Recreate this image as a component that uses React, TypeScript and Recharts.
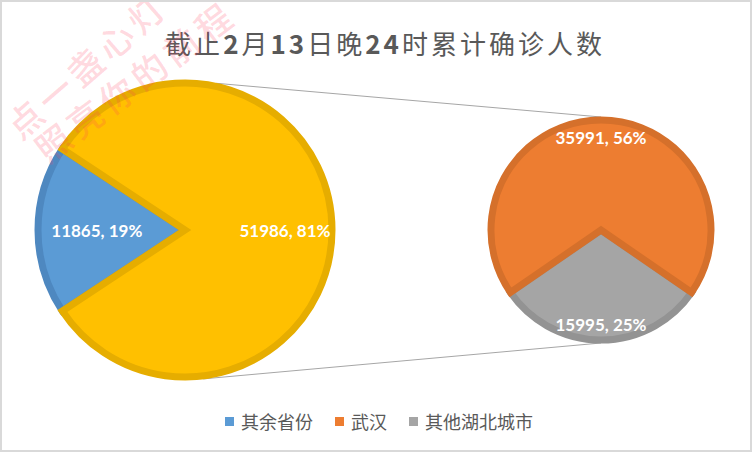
import React from "react";
import { PieChart, Pie, Cell } from "recharts";

// 主饼：其余省份 vs 湖北（合计）
const mainNames = ["其余省份", "湖北"];
const mainValues = [11865, 51986];
// 子饼：湖北拆分
const subNames = ["其他湖北城市", "武汉"];
const subValues = [15995, 35991];
const legendNames = ["其余省份", "武汉", "其他湖北城市"];
const titleText = "截止2月13日晚24时累计确诊人数";
const watermark = ["点一盏心灯", "照亮你的前程"];

const W = 752;
const H = 452;
const grandTotal = mainValues.reduce((a, b) => a + b, 0);

const mainColors = ["#5B9BD5", "#FFC000"];
const mainStroke = ["#4E88C0", "#E6AD00"];
const subColors = ["#A5A5A5", "#ED7D31"];
const subStroke = ["#939393", "#D5702B"];
const legendColors = ["#5B9BD5", "#ED7D31", "#A5A5A5"];

const mainData = mainNames.map((name, i) => ({ name, value: mainValues[i] }));
const subData = subNames.map((name, i) => ({ name, value: subValues[i] }));

const L = { cx: 185, cy: 230, r: 147 };
const R = { cx: 601, cy: 230, r: 110 };

// start angles so the small slice faces left and the grey slice faces down
const mainStart = 180 - (mainValues[0] / grandTotal) * 180;
const subStart = 270 - (subValues[0] / mainValues[1]) * 180;

const RAD = Math.PI / 180;

// label distance from centre, as a share of the radius, per slice
const makeLabel = (ratios: number[]) => (props: any) => {
  const { cx, cy, midAngle, outerRadius, value, index } = props;
  const rr = outerRadius * ratios[index];
  const x = cx + rr * Math.cos(-midAngle * RAD);
  const y = cy + rr * Math.sin(-midAngle * RAD);
  const pct = Math.round((value / grandTotal) * 100);
  return (
    <text
      x={x}
      y={y}
      fill="#ffffff"
      textAnchor="middle"
      dominantBaseline="central"
      style={{ fontFamily: "Lato, 'Open Sans', sans-serif", fontWeight: 700, fontSize: 17 }}
    >
      {`${value}, ${pct}%`}
    </text>
  );
};

const onCircle = (c: { cx: number; cy: number; r: number }, deg: number, extra = 3) => ({
  x: c.cx + (c.r + extra) * Math.cos(deg * RAD),
  y: c.cy - (c.r + extra) * Math.sin(deg * RAD),
});

export default function App() {
  const t1 = onCircle(L, 78);
  const t2 = onCircle(R, 90);
  const b1 = onCircle(L, -83);
  const b2 = onCircle(R, -90);

  return (
    <div
      style={{
        position: "fixed",
        left: 0,
        top: 0,
        width: W,
        height: H,
        background: "#ffffff",
        overflow: "hidden",
      }}
    >
      <svg width={W} height={H} style={{ position: "absolute", left: 0, top: 0 }}>
        <line x1={t1.x} y1={t1.y} x2={t2.x} y2={t2.y} stroke="#a6a6a6" strokeWidth={1} />
        <line x1={b1.x} y1={b1.y} x2={b2.x} y2={b2.y} stroke="#a6a6a6" strokeWidth={1} />
      </svg>

      <div
        style={{
          position: "absolute",
          left: 0,
          top: 26,
          width: 770,
          textAlign: "center",
          fontFamily: "'Noto Sans CJK SC', sans-serif",
          fontSize: 26,
          letterSpacing: 3,
          color: "#595959",
          lineHeight: "34px",
        }}
      >
        {titleText.split(/(\d+)/).map((part, i) =>
          /\d/.test(part) ? (
            <span key={i} style={{ fontWeight: 700 }}>
              {part}
            </span>
          ) : (
            <span key={i} style={{ fontWeight: 400 }}>{part}</span>
          )
        )}
      </div>

      <div style={{ position: "absolute", left: 0, top: 0 }}>
        <PieChart width={W} height={H} margin={{ top: 0, right: 0, bottom: 0, left: 0 }}>
          <Pie
            data={mainData}
            dataKey="value"
            nameKey="name"
            cx={L.cx}
            cy={L.cy}
            outerRadius={L.r}
            startAngle={mainStart}
            endAngle={mainStart + 360}
            label={makeLabel([0.6, 0.68])}
            labelLine={false}
            isAnimationActive={false}
          >
            {mainData.map((d, i) => (
              <Cell key={d.name} fill={mainColors[i]} stroke={mainStroke[i]} strokeWidth={7} />
            ))}
          </Pie>
          <Pie
            data={subData}
            dataKey="value"
            nameKey="name"
            cx={R.cx}
            cy={R.cy}
            outerRadius={R.r}
            startAngle={subStart}
            endAngle={subStart + 360}
            label={makeLabel([0.86, 0.84])}
            labelLine={false}
            isAnimationActive={false}
          >
            {subData.map((d, i) => (
              <Cell key={d.name} fill={subColors[i]} stroke={subStroke[i]} strokeWidth={7} />
            ))}
          </Pie>
        </PieChart>
      </div>

      <div
        style={{
          position: "absolute",
          left: 225,
          top: 409,
          display: "flex",
          alignItems: "center",
          fontFamily: "'Noto Sans CJK SC', sans-serif",
          fontSize: 18,
          color: "#595959",
          lineHeight: "24px",
        }}
      >
        {legendNames.map((n, i) => (
          <div key={n} style={{ display: "flex", alignItems: "center", marginRight: 22 }}>
            <span
              style={{
                display: "inline-block",
                width: 9,
                height: 9,
                background: legendColors[i],
                marginRight: 7,
              }}
            />
            <span>{n}</span>
          </div>
        ))}
      </div>

      <svg
        width={W}
        height={H}
        style={{ position: "absolute", left: 0, top: 0, pointerEvents: "none" }}
      >
        <g
          fill="#ff3b5c"
          fillOpacity={0.2}
          style={{ fontFamily: "'Noto Sans CJK SC', sans-serif", fontSize: 35, fontWeight: 500 }}
        >
          <text x={86} y={64} textAnchor="middle" dominantBaseline="central" letterSpacing={5} transform="rotate(-41 86 64)">
            {watermark[0]}
          </text>
          <text x={134} y={80} textAnchor="middle" dominantBaseline="central" letterSpacing={5} transform="rotate(-37 134 80)">
            {watermark[1]}
          </text>
        </g>
      </svg>

      <div
        style={{
          position: "absolute",
          left: 0,
          top: 0,
          width: W,
          height: H,
          boxSizing: "border-box",
          border: "2px solid #d9d9d9",
          pointerEvents: "none",
        }}
      />
    </div>
  );
}
